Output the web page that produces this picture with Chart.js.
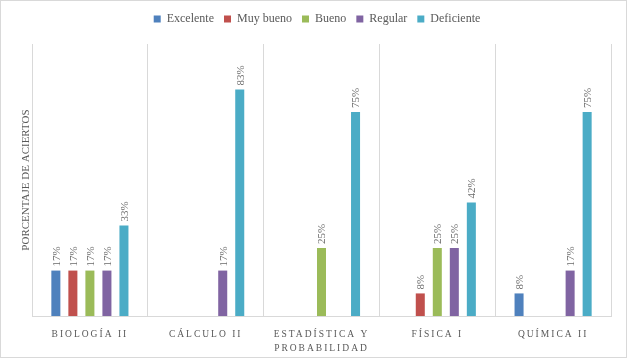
<!DOCTYPE html>
<html>
<head>
<meta charset="utf-8">
<script src="https://cdn.jsdelivr.net/npm/chart.js@4"></script>
<style>
  body { margin: 0; background: #fff; }
  #caja { width: 625px; height: 356px; border: 1px solid #d9d9d9; }
</style>
</head>
<body>
<div id="caja"><canvas id="graficoAciertos" width="625" height="356"></canvas></div>
<script>
const cursos = ["BIOLOGÍA II", "CÁLCULO II", ["ESTADÍSTICA Y", "PROBABILIDAD"], "FÍSICA I", "QUÍMICA II"];
const excelente = [16.7, null, null, null, 8.3];
const muyBueno = [16.7, null, null, 8.3, null];
const bueno = [16.7, null, 25, 25, null];
const regular = [16.7, 16.7, null, 25, 16.7];
const deficiente = [33.3, 83.3, 75, 41.7, 75];

const gris = "#595959";
const fuente = "'Liberation Serif', serif";

// etiquetas giradas encima de cada barra
const etiquetasBarras = {
    id: "etiquetasBarras",
    afterDatasetsDraw(chart) {
        const ctx = chart.ctx;
        chart.data.datasets.forEach((ds, i) => {
            chart.getDatasetMeta(i).data.forEach((bar, j) => {
                const v = ds.data[j];
                if (v === null) return;
                ctx.save();
                ctx.translate(bar.x + 1, bar.y - 4);
                ctx.rotate(-Math.PI / 2);
                ctx.font = "11px " + fuente;
                ctx.fillStyle = "#6b6b6b";
                ctx.textAlign = "left";
                ctx.textBaseline = "middle";
                ctx.fillText(Math.round(v) + "%", 0, 0);
                ctx.restore();
            });
        });
    }
};

// espaciado de letras en el eje x, hueco bajo la leyenda y leyenda algo a la derecha
const ajustes = {
    id: "ajustes",
    beforeUpdate(chart) {
        const ley = chart.legend;
        if (ley && !ley._conHueco) {
            const fitOriginal = ley.fit;
            ley.fit = function () {
                fitOriginal.call(this);
                this.height += 9;
            };
            ley._conHueco = true;
        }
    },
    afterLayout(chart) {
        const ley = chart.legend;
        if (ley) {
            ley.left += 11;
            ley.right += 11;
        }
    },
    beforeDraw(chart) {
        const eje = chart.scales.x;
        if (eje._conEspaciado) return;
        const original = eje.drawLabels;
        eje.drawLabels = function (area) {
            const c = this.ctx;
            c.save();
            c.letterSpacing = "2px";
            original.call(this, area);
            c.restore();
        };
        eje._conEspaciado = true;
    }
};

const ctx = document.getElementById("graficoAciertos").getContext("2d");
new Chart(ctx, {
    type: "bar",
    data: {
        labels: cursos,
        datasets: [
            { label: "Excelente", data: excelente, backgroundColor: "#4F81BD" },
            { label: "Muy bueno", data: muyBueno, backgroundColor: "#C0504D" },
            { label: "Bueno", data: bueno, backgroundColor: "#9BBB59" },
            { label: "Regular", data: regular, backgroundColor: "#8064A2" },
            { label: "Deficiente", data: deficiente, backgroundColor: "#4BACC6" }
        ]
    },
    options: {
        responsive: false,
        animation: false,
        barPercentage: 0.53,
        categoryPercentage: 0.735,
        layout: { padding: { top: 2, right: 15, bottom: 0, left: 0 } },
        plugins: {
            legend: {
                position: "top",
                labels: {
                    boxWidth: 7,
                    boxHeight: 7,
                    padding: 10,
                    color: gris,
                    font: { family: fuente, size: 12 }
                }
            },
            tooltip: { enabled: false }
        },
        scales: {
            x: {
                grid: { display: true, offset: true, color: "#d9d9d9", drawTicks: false },
                border: { color: "#d9d9d9" },
                ticks: {
                    color: gris,
                    padding: 12,
                    maxRotation: 0,
                    font: { family: fuente, size: 9.5, lineHeight: 1.45 }
                },
                afterFit(scale) { scale.height = 41; }
            },
            y: {
                min: 0,
                max: 100,
                grid: { display: false },
                border: { display: false },
                ticks: { display: false },
                title: {
                    display: true,
                    text: "PORCENTAJE DE ACIERTOS",
                    color: gris,
                    padding: { top: 19, bottom: 0 },
                    font: { family: fuente, size: 11 }
                },
                afterFit(scale) { scale.width = 31; }
            }
        }
    },
    plugins: [etiquetasBarras, ajustes]
});
</script>
</body>
</html>
